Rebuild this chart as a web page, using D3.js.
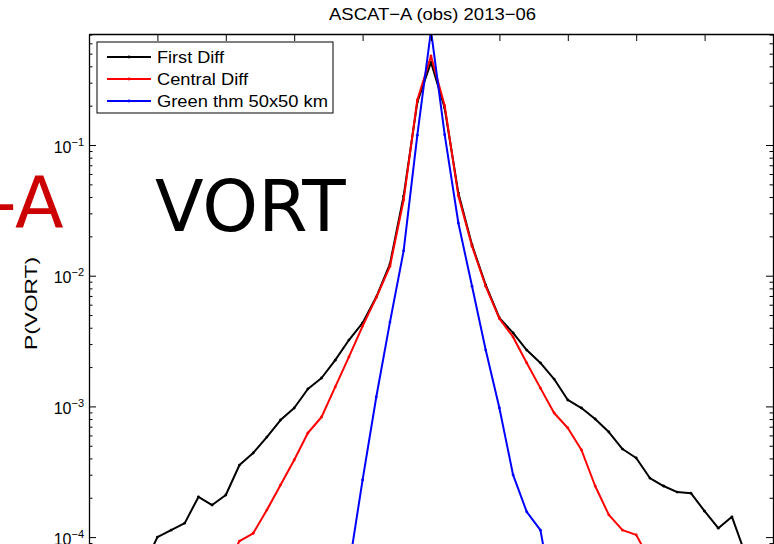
<!DOCTYPE html>
<html>
<head>
<meta charset="utf-8">
<script src="https://d3js.org/d3.v7.min.js"></script>
<style>
    body { margin: 0; overflow: hidden; background: #fff; }
    svg { display: block; }
    text { font-family: "Liberation Sans", Arial, Helvetica, sans-serif; }
</style>
</head>
<body>
<svg id="chart" width="774" height="544"></svg>
<script>

// bin centres, shared by all three curves
const bins = [
    -5.0, -4.8, -4.6, -4.4, -4.2, -4.0, -3.8, -3.6, -3.4, -3.2,
    -3.0, -2.8, -2.6, -2.4, -2.2, -2.0, -1.8, -1.6, -1.4, -1.2,
    -1.0, -0.8, -0.6, -0.4, -0.2, 0.0, 0.2, 0.4, 0.6, 0.8,
    1.0, 1.2, 1.4, 1.6, 1.8, 2.0, 2.2, 2.4, 2.6, 2.8,
    3.0, 3.2, 3.4, 3.6, 3.8, 4.0, 4.2, 4.4, 4.6, 4.8, 5.0
];

const firstDiff = [
    null, null, null, 0.00003, 0.00006, 0.000100, 0.000113, 0.000128, 0.000203, 0.000176,
    0.000210, 0.000356, 0.000440, 0.000583, 0.000787, 0.000972, 0.00136, 0.00165, 0.00226, 0.00322,
    0.00435, 0.00687, 0.0123, 0.0407, 0.213, 0.431, 0.192, 0.0429, 0.0172, 0.00849,
    0.00475, 0.00365, 0.00270, 0.00215, 0.00162, 0.00112, 0.000972, 0.000801, 0.000637, 0.000472,
    0.000403, 0.000283, 0.000246, 0.000221, 0.000217, 0.000158, 0.000117, 0.000143, 0.000073, 0.00004, null
];

const centralDiff = [
    null, null, null, null, null, null, null, null, null, 0.00004,
    0.00006, 0.0000933, 0.000107, 0.000161, 0.000250, 0.000389, 0.000626, 0.000830, 0.00141, 0.00239,
    0.00412, 0.0068, 0.0118, 0.038, 0.221, 0.480, 0.200, 0.041, 0.0168, 0.0083,
    0.00470, 0.00340, 0.00215, 0.00138, 0.000891, 0.000684, 0.000464, 0.000246, 0.000148, 0.000113,
    0.000104, 0.0000668, 0.00004, null, null, null, null, null, null, null, null
];

const greenThm = [
    null, null, null, null, null, null, null, null, null, null,
    null, null, null, null, null, null, null, null, 0.00001, 0.0000585,
    0.000274, 0.00118, 0.00442, 0.0155, 0.119, 0.75, 0.12, 0.0253, 0.0083, 0.00270,
    0.000972, 0.000299, 0.000156, 0.000113, 0.00003, 0.00001, null, null, null, null,
    null, null, null, null, null, null, null, null, null, null, null
];

const seriesNames = ["First Diff", "Central Diff", "Green thm 50x50 km"];
const seriesValues = [firstDiff, centralDiff, greenThm];
const seriesColors = ["#000000", "#ff0000", "#0000ff"];

const xTicks = [-5, -4, -3, -2, -1, 0, 1, 2, 3, 4, 5];
const yTicks = [1e-1, 1e-2, 1e-3, 1e-4];
const yTickExponents = ["\u22121", "\u22122", "\u22123", "\u22124"];

const titleText = "ASCAT\u2212A (obs) 2013\u221206";
const yLabelText = "P(VORT)";


/** Class drawing the PDF plot. */
class PdfChart {
    constructor() {
        this.svg = d3.select('#chart');
        this.left = 89;
        this.right = 773;
        this.top = 34;
        this.bottom = 576;
        this.x = d3.scaleLinear().domain([-5, 5]).range([this.left, this.right]);
        this.y = d3.scaleLog().domain([0.707, 5.04e-5]).range([this.top, this.bottom]);
    }

    /**
     * Big annotation words sitting behind the axes
     */
    drawAnnotations() {
        this.svg.append('text')
            .attr('x', 63.6).attr('y', 227)
            .attr('text-anchor', 'end')
            .style('font-family', '"DejaVu Sans", sans-serif')
            .style('font-size', '71px')
            .style('fill', '#cc0000')
            .text('-A');

        this.svg.append('text')
            .attr('x', 155).attr('y', 231)
            .style('font-family', '"DejaVu Sans", sans-serif')
            .style('font-size', '71px')
            .style('fill', '#000')
            .text('VORT');
    }

    drawAxes() {
        let x = this.x, y = this.y;

        // top: ticks only, pointing inward
        let topAxis = this.svg.append('g')
            .attr('transform', `translate(0,${this.top})`)
            .call(d3.axisTop(x).tickValues(xTicks).tickSize(-7).tickSizeOuter(0).tickFormat(''));

        let minor = y.ticks().filter(v => !yTicks.some(t => Math.abs(t - v) / t < 1e-6));

        let leftAxis = this.svg.append('g')
            .attr('transform', `translate(${this.left},0)`)
            .call(d3.axisLeft(y).tickValues(yTicks).tickSize(-7).tickSizeOuter(0).tickPadding(5)
                .tickFormat(() => ''));

        this.svg.append('g')
            .attr('transform', `translate(${this.left},0)`)
            .call(d3.axisLeft(y).tickValues(minor).tickSize(-3.5).tickFormat(''))
            .select('.domain').remove();

        let rightAxis = this.svg.append('g')
            .attr('transform', `translate(${this.right},0)`)
            .call(d3.axisRight(y).tickValues(yTicks).tickSize(-7).tickSizeOuter(0).tickFormat(''));

        this.svg.append('g')
            .attr('transform', `translate(${this.right},0)`)
            .call(d3.axisRight(y).tickValues(minor).tickSize(-3.5).tickFormat(''))
            .select('.domain').remove();

        this.svg.selectAll('.domain').style('stroke', '#000').style('stroke-width', 1.3);
        this.svg.selectAll('.tick line').style('stroke', '#000').style('stroke-width', 1);

        // 10^n labels
        leftAxis.selectAll('.tick text').each(function (d, i) {
            let t = d3.select(this)
                .attr('dy', '0.45em')
                .style('font-size', '16px')
                .style('fill', '#000');
            t.append('tspan').text('10');
            t.append('tspan')
                .attr('dy', -7)
                .style('font-size', '11px')
                .text(yTickExponents[i]);
        });
    }

    drawCurves() {
        this.svg.append('clipPath').attr('id', 'plotClip')
            .append('rect')
            .attr('x', this.left).attr('y', this.top)
            .attr('width', this.right - this.left)
            .attr('height', this.bottom - this.top);

        let plot = this.svg.append('g').attr('clip-path', 'url(#plotClip)');

        let line = d3.line()
            .defined(d => d.v != null)
            .x(d => this.x(d.b))
            .y(d => this.y(d.v));

        seriesValues.forEach((vals, s) => {
            let pts = bins.map((b, i) => ({ b: b, v: vals[i] }));

            plot.append('path')
                .datum(pts)
                .attr('d', line)
                .style('fill', 'none')
                .style('stroke', seriesColors[s])
                .style('stroke-width', 2)
                .style('stroke-linejoin', 'round');

            plot.selectAll('.dot' + s)
                .data(pts.filter(d => d.v != null))
                .enter()
                .append('circle')
                .attr('cx', d => this.x(d.b))
                .attr('cy', d => this.y(d.v))
                .attr('r', 1.4)
                .style('fill', seriesColors[s]);
        });
    }

    drawLegend() {
        let lg = this.svg.append('g');
        lg.append('rect')
            .attr('x', 97).attr('y', 42)
            .attr('width', 236).attr('height', 71)
            .style('fill', '#fff')
            .style('stroke', '#000')
            .style('stroke-width', 1);

        let widths = [67, 91, 171];
        seriesNames.forEach((name, i) => {
            let yy = 57 + i * 22;
            lg.append('line')
                .attr('x1', 107).attr('x2', 151)
                .attr('y1', yy).attr('y2', yy)
                .style('stroke', seriesColors[i])
                .style('stroke-width', 2);
            lg.append('circle')
                .attr('cx', 129).attr('cy', yy).attr('r', 1.4)
                .style('fill', seriesColors[i]);
            lg.append('text')
                .attr('x', 157).attr('y', yy + 6)
                .attr('textLength', widths[i])
                .attr('lengthAdjust', 'spacingAndGlyphs')
                .style('font-size', '16px')
                .style('fill', '#000')
                .text(name);
        });
    }

    drawLabels() {
        this.svg.append('text')
            .attr('x', 432.5).attr('y', 20)
            .attr('text-anchor', 'middle')
            .attr('textLength', 207)
            .attr('lengthAdjust', 'spacingAndGlyphs')
            .style('font-size', '17px')
            .style('fill', '#000')
            .text(titleText);

        this.svg.append('text')
            .attr('transform', 'translate(36.5,303.5) rotate(-90)')
            .attr('text-anchor', 'middle')
            .attr('textLength', 93)
            .attr('lengthAdjust', 'spacingAndGlyphs')
            .style('font-size', '17px')
            .style('fill', '#000')
            .text(yLabelText);
    }
}

let chart = new PdfChart();
chart.drawAnnotations();
chart.drawCurves();
chart.drawAxes();
chart.drawLegend();
chart.drawLabels();

</script>
</body>
</html>
